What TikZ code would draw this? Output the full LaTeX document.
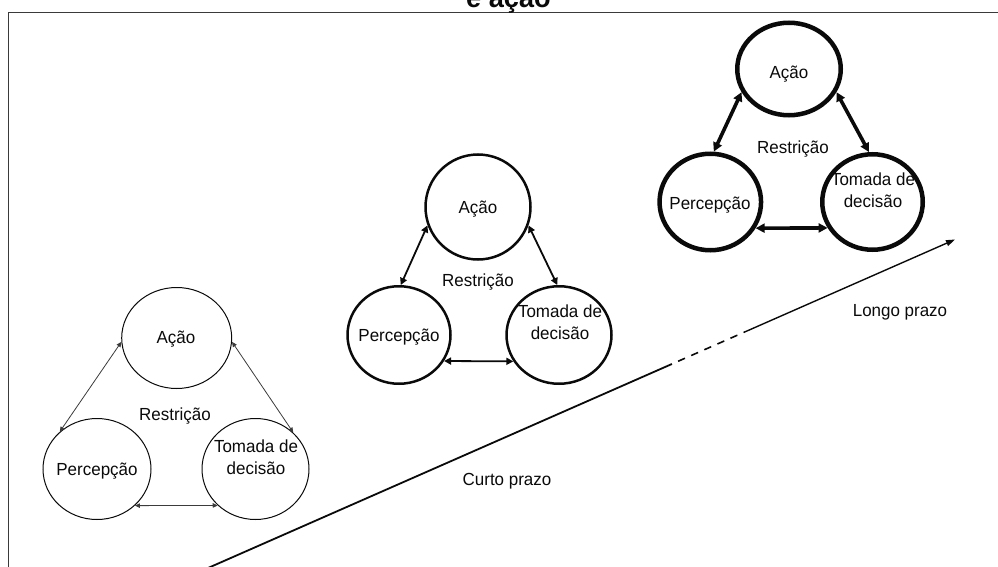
\documentclass[tikz,border=0pt]{standalone}
\usepackage{fontspec}
\setmainfont{Liberation Sans}[FakeStretch=0.97]
\usetikzlibrary{shapes.geometric,arrows.meta,calc}
\definecolor{framegray}{HTML}{3A3A3A}
\definecolor{ink}{HTML}{0A0A0A}
\begin{document}
\begin{tikzpicture}[x=1pt,y=-1pt,
  every node/.style={font=\fontsize{17.5}{21.5}\selectfont, text=ink},
  lbl/.style={inner sep=0pt, text height=12.5pt, text depth=0pt, align=center},
  ring/.style={ellipse, draw=ink, inner sep=0pt},
  ringthin/.style={ring, line width=1pt},
  ringmid/.style={ring, line width=2.5pt},
  ringbold/.style={ring, line width=4.5pt},
  linkthin/.style={draw=ink!80, line width=0.8pt, {Triangle[length=5pt,width=4.5pt]}-{Triangle[length=5pt,width=4.5pt]}},
  linkmid/.style={draw=ink, line width=1.8pt, {Triangle[length=7pt,width=7pt]}-{Triangle[length=7pt,width=7pt]}},
  linkbold/.style={draw=ink, line width=3.6pt, {Triangle[length=9pt,width=9pt]}-{Triangle[length=9pt,width=9pt]}}
]
\useasboundingbox (0,0) rectangle (998,567);

% frame and heading
\draw[framegray, line width=1.3pt, line join=miter] (8.3,580) -- (8.3,12.3) -- (1010,12.3);
\node[anchor=base, inner sep=0pt, font=\fontsize{28}{30}\selectfont\bfseries] (ttl) at (508.5,7.5) {e ação};

% short term: thin rings
\node[ringthin, minimum width=110pt, minimum height=101pt] (A1) at (176.7,338) {};
\node[ringthin, minimum width=108pt, minimum height=101pt] (P1) at (97,469) {};
\node[ringthin, minimum width=107pt, minimum height=101pt] (T1) at (255.5,469) {};
\node[lbl] (A1t) at (176,337) {Ação};
\node[lbl] (P1t) at (97,469) {Percepção};
\node[lbl] (T1t) at (256,468) {Tomada de\\decisão};
\node[lbl] (R1) at (175,414) {Restrição};
\draw[linkthin] (A1.184) -- (P1.135);
\draw[linkthin] (A1.356) -- (T1.44);
\draw[linkthin] (P1.316) -- (T1.224);

% middle: medium rings
\node[ringmid, minimum width=105pt, minimum height=105pt] (A2) at (478,207) {};
\node[ringmid, minimum width=103pt, minimum height=97.5pt] (P2) at (399,335) {};
\node[ringmid, minimum width=105pt, minimum height=97.5pt] (T2) at (559,335) {};
\node[lbl] (A2t) at (478,207) {Ação};
\node[lbl] (P2t) at (399,335) {Percepção};
\node[lbl] (T2t) at (560,333) {Tomada de\\decisão};
\node[lbl] (R2) at (478,280) {Restrição};
\draw[linkmid] (A2.200) -- (P2.88);
\draw[linkmid] (A2.340) -- (T2.92);
\draw[linkmid] (P2.330) -- (T2.210);

% long term: bold rings
\node[ringbold, minimum width=103.5pt, minimum height=92.5pt] (A3) at (789,69) {};
\node[ringbold, minimum width=101.5pt, minimum height=96.5pt] (P3) at (710.3,202) {};
\node[ringbold, minimum width=100.5pt, minimum height=95.5pt] (T3) at (872.5,202) {};
\node[lbl] (A3t) at (789,72) {Ação};
\node[lbl] (P3t) at (710,203) {Percepção};
\node[lbl] (T3t) at (873,201) {Tomada de\\decisão};
\node[lbl] (R3) at (793,147) {Restrição};
\draw[linkbold] (A3.206) -- (P3.86);
\draw[linkbold] (A3.334) -- (T3.94);
\draw[linkbold] (P3.330) -- (T3.210);

% time axis
\coordinate (ls) at (208,568);
\coordinate (le) at (955,239.5);
\coordinate (d1) at ($(ls)!0.621!(le)$);
\coordinate (d2) at ($(ls)!0.719!(le)$);
\draw[ink, line width=1.8pt] (ls) -- (d1);
\draw[ink, line width=1.6pt, dash pattern=on 7.5pt off 6.8pt, dash phase=7.5pt] (d1) -- (d2);
\draw[ink, line width=1.4pt, -{Triangle[length=9pt,width=6pt]}] (d2) -- (le);
\node[lbl] (lp) at (900,310) {Longo prazo};
\node[lbl] (cp) at (507,479) {Curto prazo};
\end{tikzpicture}
\end{document}
